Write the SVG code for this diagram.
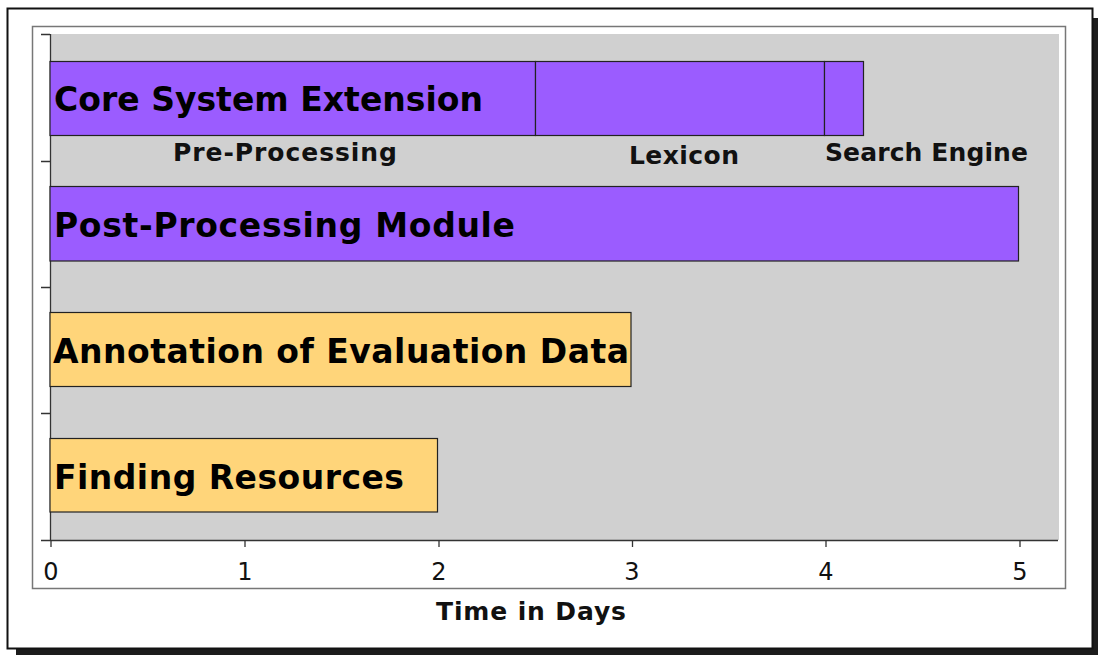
<svg xmlns="http://www.w3.org/2000/svg" width="1098" height="655" viewBox="0 0 1098 655">
<style>
.bar{stroke:#222;stroke-width:1.2}
.purple{fill:#9b5cff}
.yellow{fill:#ffd57a}
.big{font-family:"DejaVu Sans",Verdana,sans-serif;font-weight:bold;font-size:33px;fill:#000}
.seg{font-family:"DejaVu Sans",Verdana,sans-serif;font-weight:bold;font-size:25px;fill:#111;text-anchor:middle}
.tick{font-family:"DejaVu Sans",Verdana,sans-serif;font-size:24px;fill:#111;text-anchor:middle}
.axis{stroke:#333;stroke-width:1.3;fill:none}
</style>
<g id="frame">
<rect x="16" y="18" width="1082" height="637" fill="#1c1c1c"/>
<rect x="7.5" y="8.5" width="1085" height="640" fill="#fff" stroke="#111" stroke-width="2"/>
<rect x="32.5" y="26.5" width="1033" height="562" fill="#fff" stroke="#777" stroke-width="1.5"/>
<rect x="50" y="34" width="1009" height="506" fill="#d0d0d0"/>
</g>
<g id="axes">
<path class="axis" d="M50.5 34V540M41 34.5H50M41 161.5H50M41 287.5H50M41 413.5H50M41 540.5H1058"/>
<path class="axis" d="M51 540V547M245 540V547M439 540V547M632.5 540V547M826 540V547M1020 540V547"/>
<text class="tick" x="51" y="580">0</text>
<text class="tick" x="245" y="580">1</text>
<text class="tick" x="439" y="580">2</text>
<text class="tick" x="632" y="580">3</text>
<text class="tick" x="826" y="580">4</text>
<text class="tick" x="1020" y="580">5</text>
<text x="531" y="620" font-family="DejaVu Sans, Verdana, sans-serif" font-weight="bold" font-size="25" fill="#111" text-anchor="middle" textLength="190">Time in Days</text>
</g>
<g id="core">
<rect class="bar purple" x="50" y="61.5" width="485.5" height="74"/>
<rect class="bar purple" x="535.5" y="61.5" width="289" height="74"/>
<rect class="bar purple" x="824.5" y="61.5" width="39" height="74"/>
<text class="big" x="54" y="111" textLength="429">Core System Extension</text>
<text class="seg" x="285" y="161" textLength="224">Pre-Processing</text>
<text class="seg" x="684" y="164" textLength="110">Lexicon</text>
<text class="seg" x="926.5" y="161" textLength="203">Search Engine</text>
</g>
<g id="post">
<rect class="bar purple" x="50" y="186.5" width="968.5" height="74.5"/>
<text class="big" x="54" y="237" textLength="461">Post-Processing Module</text>
</g>
<g id="annotation">
<rect class="bar yellow" x="50" y="312.5" width="581" height="74"/>
<text class="big" x="53" y="363" textLength="576">Annotation of Evaluation Data</text>
</g>
<g id="finding">
<rect class="bar yellow" x="50" y="438.5" width="387.5" height="73.5"/>
<text class="big" x="54" y="489" textLength="350">Finding Resources</text>
</g>
</svg>
